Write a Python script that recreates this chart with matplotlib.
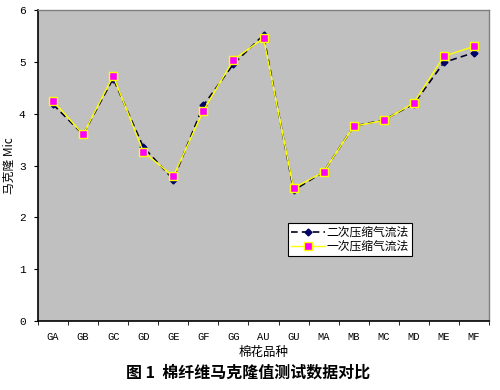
import matplotlib
matplotlib.use("Agg")
import matplotlib.pyplot as plt
import numpy as np

categories = ["GA", "GB", "GC", "GD", "GE", "GF", "GG", "AU", "GU", "MA", "MB", "MC", "MD", "ME", "MF"]
twice = [4.18, 3.60, 4.68, 3.36, 2.73, 4.16, 4.96, 5.52, 2.52, 2.88, 3.76, 3.88, 4.19, 4.99, 5.18]
once = [4.25, 3.60, 4.73, 3.27, 2.79, 4.06, 5.04, 5.46, 2.56, 2.88, 3.76, 3.87, 4.21, 5.11, 5.30]
series_names = ["二次压缩气流法", "一次压缩气流法"]
yticks = [0, 1, 2, 3, 4, 5, 6]

plt.rcParams['font.family'] = ['Noto Sans CJK SC', 'DejaVu Sans']

fig = plt.figure(figsize=(5.0, 3.9), dpi=100)
ax = fig.add_axes([0.076, 0.177, 0.902, 0.797])
ax.set_facecolor("#C0C0C0")

x = np.arange(len(categories))
ax.plot(x, twice, linestyle=(0, (4, 2.5)), color="#000020", linewidth=1.2,
        marker="D", markersize=3.5, markerfacecolor="#000066", markeredgecolor="#000066",
        label=series_names[0], zorder=3)
ax.plot(x, once, linestyle="-", color="#FFFF00", linewidth=1.0,
        marker="s", markersize=6, markerfacecolor="#FF00FF", markeredgecolor="#FFFF00",
        markeredgewidth=1.0, label=series_names[1], zorder=4)

ax.set_xlim(-0.5, len(categories) - 0.5)
ax.set_ylim(0, 6)
ax.set_yticks(yticks)
ax.set_yticklabels([str(v) for v in yticks], fontsize=8, family=['Liberation Mono', 'DejaVu Sans'])
ax.set_xticks(x)
ax.set_xticklabels(categories, fontsize=7.5, family=['Liberation Mono', 'DejaVu Sans'])
ax.set_xticks(np.arange(-0.5, len(categories) + 0.5, 1), minor=True)
ax.tick_params(axis='x', which='major', length=0, pad=8)
ax.tick_params(axis='x', which='minor', length=3, direction='out', color='black')
ax.tick_params(axis='y', length=3, direction='out', color='black', pad=6)

for side in ['top', 'right']:
    ax.spines[side].set_color('#808080')
    ax.spines[side].set_linewidth(1.0)
for side in ['left', 'bottom']:
    ax.spines[side].set_color('black')
    ax.spines[side].set_linewidth(1.2)

ax.set_ylabel("马克隆 Mic", fontsize=8.5)
ax.yaxis.set_label_coords(-0.05, 0.5)
ax.set_xlabel("棉花品种", fontsize=9, labelpad=3)

leg = ax.legend(loc='upper left', bbox_to_anchor=(0.555, 0.316), fontsize=8.5,
                frameon=True, fancybox=False, framealpha=1.0, edgecolor='black',
                borderpad=0.25, handlelength=2.9, handletextpad=0.1, labelspacing=0.1,
                borderaxespad=0)
leg.get_frame().set_linewidth(0.8)

fig.text(0.497, 0.045, "图 1  棉纤维马克隆值测试数据对比", ha='center', va='center',
         fontsize=11.5, fontweight='bold')

fig.savefig("out.png", dpi=100, facecolor='white')
